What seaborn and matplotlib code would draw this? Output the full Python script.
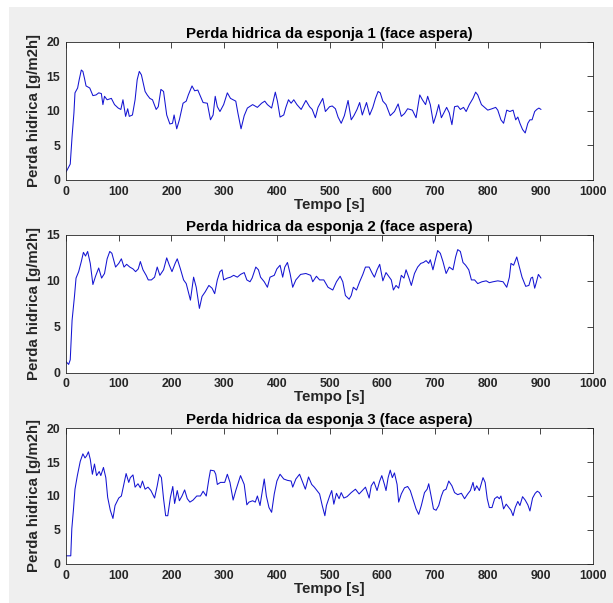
import pandas as pd
import numpy as np
import matplotlib
matplotlib.use("Agg")
import matplotlib.pyplot as plt
from matplotlib.patches import Rectangle
import seaborn as sns

# ── data (time in s, loss in g/m2h) ─────────────────────────────────────────
t1 = [0, 8, 11.5, 15, 17, 22, 25, 29, 32, 35, 38, 45, 51, 57, 62, 67, 70, 73, 78, 86,
      92, 99, 104, 108, 113, 117, 120, 126, 131, 135, 139, 143, 150, 154, 159, 164, 171, 175, 180, 185,
      191, 197, 202, 205, 210, 215, 222, 228, 232, 239, 244, 250, 255, 260, 268, 274, 279, 283, 287, 292,
      299, 306, 312, 322, 326, 332, 338, 344, 354, 363, 371, 377, 382, 390, 397, 401, 406, 413, 417, 422,
      427, 432, 438, 446, 455, 462, 467, 473, 478,
      487, 492, 500, 505, 511, 516, 522, 528, 535, 541, 546, 552, 557, 562, 570, 576, 582, 587, 592, 596,
      601, 607, 615, 623, 630, 636, 642, 648, 657, 664, 671, 676, 682, 686, 691, 697, 702, 707, 712, 718,
      722, 727, 732, 737, 743, 748, 754, 759, 765, 772, 777, 781, 788, 794, 800, 808, 815, 819, 825, 830,
      836, 842, 848, 853, 857, 861, 866, 871, 876, 880, 884, 889, 893, 897, 901]
y1 = [1.15, 2.3, 6.3, 9.7, 12.6, 13.3, 14.5, 15.9, 15.7, 14.7, 13.6, 13.3, 12.2, 12.3, 12.6, 12.5, 10.9, 12.1, 11.6, 11.8,
      10.9, 10.4, 10.2, 11.6, 9.2, 10.3, 9.2, 9.4, 11.6, 14.5, 15.7, 15.2, 12.8, 12.3, 11.8, 11.6, 10.2, 10.6, 13.1, 12.8,
      9.4, 8.1, 8.2, 9.4, 7.4, 8.7, 11.1, 11.4, 12.3, 13.6, 12.9, 13.0, 12.1, 11.2, 11.1, 8.7, 9.4, 12.1, 10.6, 9.9,
      10.9, 12.6, 11.8, 11.4, 9.7, 7.4, 9.3, 10.4, 10.9, 10.5, 11.1, 11.4, 10.9, 10.4, 12.7, 11.4, 9.1, 9.4, 10.5, 11.6,
      11.1, 11.6, 10.9, 10.2, 11.5, 10.6, 10.2, 9.0, 10.5,
      11.8, 9.9, 10.6, 10.7, 10.3, 9.1, 8.2, 9.3, 11.5, 8.7, 9.3, 10.2, 11.2, 9.4, 11.2, 9.4, 10.5, 11.8, 12.8, 12.6,
      11.4, 10.9, 9.3, 9.9, 11.0, 9.2, 9.6, 10.3, 10.1, 9.0, 12.3, 11.6, 10.9, 12.1, 10.9, 8.2, 9.4, 10.9, 9.0, 9.9,
      10.5, 9.7, 8.0, 10.6, 10.7, 10.2, 10.5, 9.9, 10.9, 11.8, 12.7, 12.3, 10.9, 10.5, 10.1, 10.3, 10.5, 10.1, 8.7, 8.2,
      10.1, 9.9, 10.1, 8.7, 9.1, 8.2, 7.3, 6.8, 8.2, 8.7, 8.7, 9.9, 10.2, 10.4, 10.2]

t2 = [0, 5, 8, 11.5, 16, 19, 24, 29, 33, 37, 41, 46, 51, 56, 62, 67.5, 73, 78, 83, 87,
      94, 100, 105, 110, 115, 121, 127, 132, 137, 141, 146, 152, 156, 162, 168, 173, 178, 185, 191, 196,
      201, 207, 211, 217, 223, 228, 232, 236, 242, 247, 253, 258, 264, 271, 277, 282, 287, 292, 296, 299,
      306, 312, 318, 325, 331, 338, 343, 349, 353, 360, 365, 369, 376, 382, 387, 395, 400, 406, 411, 415,
      420, 425, 430, 436, 445, 455, 464, 468, 475,
      481, 489, 497, 506, 513, 520, 525, 530, 537, 541, 545, 551, 557, 563, 568, 575, 581, 585, 590, 595,
      601, 607, 612, 617, 621, 626, 631, 636, 641, 645, 650, 655, 661, 667, 673, 678, 683, 688, 691, 696,
      701, 705, 710, 715, 721, 727, 734, 739, 743, 748, 753, 758, 764, 769, 775, 781, 789, 797, 803, 810,
      819, 829, 836, 841, 844, 849, 855, 860, 865, 872, 878, 882, 885, 889, 892, 896, 901]
y2 = [1.2, 0.9, 1.4, 5.7, 8.3, 10.3, 11.0, 12.1, 13.1, 12.7, 13.2, 11.9, 9.6, 10.5, 11.4, 10.3, 10.8, 12.4, 13.2, 13.0,
      11.5, 11.9, 12.4, 11.5, 11.8, 11.5, 11.3, 11.0, 11.3, 12.1, 11.2, 10.6, 10.1, 10.1, 10.4, 11.5, 10.6, 11.2, 12.5, 11.7,
      11.0, 11.9, 12.4, 11.3, 10.1, 9.7, 8.8, 7.9, 10.4, 9.3, 7.0, 8.3, 8.8, 9.5, 9.2, 8.6, 10.1, 11.0, 11.2, 10.1,
      10.3, 10.4, 10.6, 10.4, 10.7, 10.9, 10.1, 9.9, 10.3, 11.5, 11.2, 10.4, 9.9, 9.3, 10.4, 10.6, 11.3, 11.7, 10.4, 11.5,
      12.0, 10.8, 9.3, 10.1, 10.7, 10.8, 10.6, 9.9, 10.5,
      10.1, 10.1, 9.3, 9.0, 9.9, 10.5, 9.9, 8.4, 8.0, 8.4, 9.3, 9.0, 9.9, 10.7, 11.5, 11.5, 10.8, 10.4, 11.2, 11.8,
      10.0, 10.9, 10.5, 10.1, 9.0, 9.5, 9.2, 10.6, 10.3, 11.2, 10.4, 9.5, 10.8, 11.5, 11.9, 12.0, 12.2, 11.9, 12.3, 11.2,
      12.4, 13.3, 13.0, 12.1, 10.8, 11.5, 11.2, 12.6, 13.4, 13.2, 12.0, 11.7, 11.2, 10.1, 10.1, 9.7, 9.9, 10.0, 9.8, 9.9,
      10.0, 9.9, 9.3, 10.4, 11.9, 11.7, 12.6, 11.5, 10.4, 9.4, 9.5, 10.3, 10.4, 9.2, 9.8, 10.7, 10.3]

t3 = [0, 9, 11, 14, 17, 21.5, 27, 32, 36, 39, 42.5, 46, 50, 54, 58, 63, 66, 71, 75.5, 79,
      84, 89, 93, 100, 105, 109, 114, 119, 122, 127, 131, 136.5, 141, 145, 150, 155.5, 161, 168, 173, 177,
      181, 185, 189, 193, 198, 202.5, 206, 211, 215, 220, 225, 230, 235, 241, 248, 255, 260, 266, 271, 274,
      281, 284, 287, 293, 301, 306, 311, 317, 322, 327, 331, 338, 343, 347, 354, 359, 363, 368, 373, 376,
      380, 385, 390, 395, 400, 406, 413, 420, 427, 430, 436, 443, 449, 454, 460, 466, 471, 476,
      481, 486, 491, 494, 500, 504, 508, 513, 518, 522, 527, 533, 541, 549, 556, 562, 568, 575, 579, 584,
      590, 595, 599, 604, 607, 611, 615, 619, 623, 628, 631, 636, 642, 648, 653, 659, 664, 669, 674, 680,
      685, 688, 693, 697, 702, 707, 712, 716, 721, 726, 732, 737, 743, 750, 756, 762, 767, 772, 775, 779,
      784, 791, 795, 799, 803, 808, 813, 818, 822, 825, 830, 835, 840, 844, 848, 852, 857, 861, 866, 871,
      876, 880, 885, 890, 894, 898, 902]
y3 = [1.2, 1.2, 5.2, 7.9, 11.0, 13.0, 15.1, 16.2, 15.6, 15.9, 16.5, 15.4, 13.2, 14.7, 13.0, 13.6, 13.0, 14.2, 12.7, 9.8,
      7.9, 6.7, 8.6, 9.7, 10.0, 11.5, 13.3, 12.0, 12.7, 13.1, 11.3, 11.8, 11.2, 12.2, 11.0, 11.3, 10.8, 9.7, 11.5, 13.2,
      12.7, 9.6, 7.1, 7.1, 9.8, 11.4, 8.9, 10.8, 9.3, 10.0, 10.9, 9.6, 9.1, 9.4, 10.0, 10.0, 10.7, 10.0, 12.5, 13.8,
      13.7, 13.2, 11.7, 12.0, 12.0, 13.2, 12.0, 9.4, 10.8, 12.0, 13.0, 11.7, 8.7, 9.1, 9.3, 9.1, 10.0, 8.6, 11.0, 12.5,
      10.0, 8.3, 7.6, 10.3, 12.2, 13.2, 12.5, 12.3, 12.2, 11.3, 12.5, 13.2, 12.0, 11.0, 12.8, 11.7, 11.3, 10.8,
      10.3, 8.6, 7.1, 8.6, 10.0, 10.8, 8.8, 10.4, 9.6, 10.5, 9.7, 9.9, 10.5, 11.0, 10.3, 10.8, 11.3, 9.7, 11.5, 12.1,
      10.8, 12.2, 13.0, 11.7, 10.8, 12.7, 13.8, 12.7, 13.4, 11.7, 9.1, 10.3, 11.2, 11.4, 10.8, 9.3, 8.1, 7.3, 8.6, 10.5,
      11.0, 11.8, 9.8, 8.1, 7.9, 8.6, 10.0, 10.8, 11.0, 12.2, 11.5, 10.5, 10.2, 10.4, 9.6, 10.3, 10.8, 12.0, 10.8, 11.5,
      10.8, 12.7, 12.0, 9.6, 8.3, 8.3, 9.6, 9.9, 9.6, 10.0, 8.1, 8.8, 8.3, 7.9, 7.1, 8.3, 9.2, 8.6, 9.9, 9.4,
      8.7, 7.8, 9.7, 10.4, 10.7, 10.5, 9.9]

titles = ["Perda hidrica da esponja 1 (face aspera)",
          "Perda hidrica da esponja 2 (face aspera)",
          "Perda hidrica da esponja 3 (face aspera)"]
y_tops = [20, 15, 20]
x_ticks = [0, 100, 200, 300, 400, 500, 600, 700, 800, 900, 1000]

sns.set_theme(style="white")
plt.rcParams['font.family'] = ['Liberation Sans', 'DejaVu Sans']

fig = plt.figure(figsize=(6.13, 6.03), dpi=100, facecolor='white')
# grey MATLAB-style figure canvas, slightly inset from the white border
fig.patches.append(Rectangle((9 / 613, 0), 1, 1 - 7 / 603, transform=fig.transFigure,
                             facecolor='#efefef', edgecolor='none', zorder=-10))

positions = [[0.1077, 0.7015, 0.860, 0.2294],
             [0.1077, 0.3820, 0.860, 0.2284],
             [0.1077, 0.0647, 0.860, 0.2255]]

for pos, tt, yy, title, ytop in zip(positions, [t1, t2, t3], [y1, y2, y3], titles, y_tops):
    ax = fig.add_axes(pos)
    df = pd.DataFrame({'Tempo': tt, 'Perda': yy})
    sns.lineplot(data=df, x='Tempo', y='Perda', ax=ax, estimator=None, sort=False,
                 color='#1414d2', lw=0.75)
    ax.set_xlim(0, 1000)
    ax.set_ylim(0, ytop)
    ax.set_xticks(x_ticks)
    ax.set_yticks(np.arange(0, ytop + 1, 5))
    ax.tick_params(direction='in', length=4, width=0.6, color='#262626', top=True, right=True,
                   labelsize=8.8, pad=4, labelcolor='#262626')
    for lab in ax.get_xticklabels() + ax.get_yticklabels():
        lab.set_fontweight('bold')
    for sp in ax.spines.values():
        sp.set_color('#262626')
        sp.set_linewidth(0.6)
    ax.set_facecolor('white')
    ax.set_title(title, fontsize=10.8, fontweight='bold', pad=3, color='black')
    ax.set_xlabel('Tempo [s]', fontsize=10.8, fontweight='bold', labelpad=0, color='#262626')
    ax.set_ylabel('Perda hidrica [g/m2h]', fontsize=10.8, fontweight='bold', labelpad=4, color='#262626')

fig.savefig("out.png", dpi=100, facecolor=fig.get_facecolor())
